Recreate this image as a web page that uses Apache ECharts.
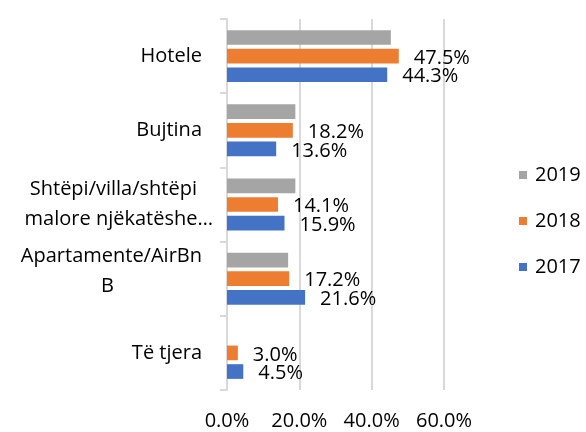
<!DOCTYPE html>
<html>
<head>
<meta charset="utf-8">
<script src="https://cdn.jsdelivr.net/npm/echarts@6/dist/echarts.min.js"></script>
<style>
  html, body { margin: 0; padding: 0; background: #ffffff; }
  #chart { width: 586px; height: 432px; }
</style>
</head>
<body>
<div id="chart"></div>
<script>
// kategoritë (nga lart poshtë)
const categories = ['Hotele', 'Bujtina', 'Shtëpi/villa/shtëpi malore njëkatëshe…', 'Apartamente/AirBnB', 'Të tjera'];
const years = ['2019', '2018', '2017'];
const values2019 = [45.3, 18.9, 18.9, 16.9, null];
const values2018 = [47.5, 18.2, 14.1, 17.2, 3.0];
const values2017 = [44.3, 13.6, 15.9, 21.6, 4.5];
const xTicks = [0, 20, 40, 60];

const colors = ['#a5a5a5', '#ed7d31', '#4472c4'];
const font = '"Open Sans", sans-serif';

// etiketat e boshtit, të ndara si në origjinal
function catLabel(value, index) {
  if (index === 2) return '{a|Shtëpi/villa/shtëpi}\n{b|malore njëkatëshe…}';
  if (index === 3) return '{r|Apartamente/AirBn}\n{c|B}\n{e| }';
  return '{r|' + value + '}';
}

function labelOpt(show) {
  return {
    show: show,
    position: 'right',
    distance: 15,
    offset: [0, 2],
    color: '#000',
    fontFamily: font,
    fontSize: 20,
    formatter: (p) => p.value.toFixed(1) + '%'
  };
}

const chart = echarts.init(document.getElementById('chart'), null, { renderer: 'canvas' });

const option = {
  backgroundColor: '#ffffff',
  color: colors,
  animation: false,
  textStyle: { fontFamily: font },
  grid: {
    left: 227,
    right: 142,
    top: 19,
    bottom: 42,
    containLabel: false
  },
  legend: {
    orient: 'vertical',
    left: 514,
    top: 160,
    itemWidth: 8,
    itemHeight: 8,
    itemGap: 26,
    icon: 'rect',
    data: years,
    textStyle: {
      fontFamily: font,
      fontSize: 20,
      color: '#000',
      lineHeight: 20,
      padding: [0, 0, 0, 3]
    }
  },
  xAxis: {
    type: 'value',
    min: xTicks[0],
    max: xTicks[xTicks.length - 1],
    interval: 20,
    axisLine: { show: false },
    axisTick: { show: false },
    axisLabel: {
      margin: 21,
      color: '#000',
      fontFamily: font,
      fontSize: 20,
      formatter: (v) => v.toFixed(1) + '%'
    },
    splitLine: { show: true, lineStyle: { color: '#d9d9d9', width: 2 } }
  },
  yAxis: {
    type: 'category',
    inverse: true,
    data: categories,
    axisLine: { show: true, lineStyle: { color: '#d9d9d9', width: 2 } },
    axisTick: { show: true, inside: false, length: 7, lineStyle: { color: '#d9d9d9', width: 2 } },
    axisLabel: {
      margin: 14,
      color: '#000',
      fontFamily: font,
      fontSize: 20,
      formatter: catLabel,
      rich: {
        r: { fontSize: 20, fontFamily: font, color: '#000', lineHeight: 30, padding: [0, 11, 0, 0] },
        a: { fontSize: 20, fontFamily: font, color: '#000', lineHeight: 30, padding: [0, 16, 0, 0] },
        b: { fontSize: 20, fontFamily: font, color: '#000', lineHeight: 30 },
        c: { fontSize: 20, fontFamily: font, color: '#000', lineHeight: 30, padding: [0, 99, 0, 0] },
        e: { fontSize: 1, lineHeight: 14 }
      }
    }
  },
  series: [
    {
      name: years[0],
      type: 'bar',
      data: values2019,
      barGap: '27%',
      barCategoryGap: '30%',
      label: labelOpt(false)
    },
    {
      name: years[1],
      type: 'bar',
      data: values2018,
      barGap: '27%',
      barCategoryGap: '30%',
      label: labelOpt(true)
    },
    {
      name: years[2],
      type: 'bar',
      data: values2017,
      barGap: '27%',
      barCategoryGap: '30%',
      label: labelOpt(true)
    }
  ]
};

chart.setOption(option);
</script>
</body>
</html>
